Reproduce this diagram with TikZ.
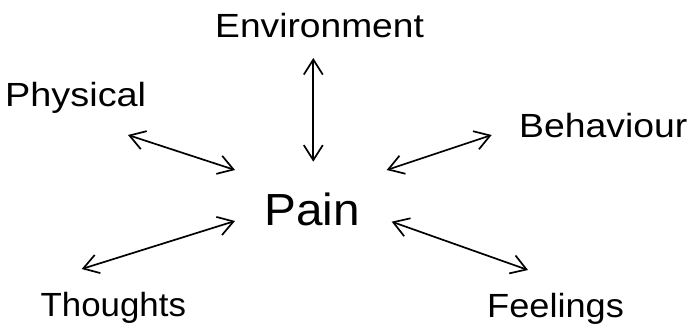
\documentclass[tikz,border=0pt]{standalone}
\usepackage{fontspec}
\setmainfont{Liberation Sans}
\usetikzlibrary{arrows.meta}
\begin{document}
\begin{tikzpicture}[x=1pt,y=1pt,
  lbl/.style={inner sep=0pt, anchor=base west, font=\fontsize{33.5}{40}\selectfont},
  big/.style={inner sep=0pt, anchor=base west, font=\fontsize{45}{54}\selectfont},
  tipb/.tip={Straight Barb[length=15pt,width=19pt]},
  link/.style={line width=1.7pt, tipb-tipb}]
\useasboundingbox (0,0) rectangle (691,325);
\node[lbl] (env) at (215,288) {\scalebox{1.11}[1]{Environment}};
\node[lbl] (phys) at (5,218.3) {\scalebox{1.13}[1]{Physical}};
\node[big] (pain) at (264.3,100) {\scalebox{1.06}[1]{Pain}};
\node[lbl] (beh) at (519,188) {\scalebox{1.115}[1]{Behaviour}};
\node[lbl] (thou) at (40.5,8.3) {\scalebox{1.04}[1]{Thoughts}};
\node[lbl] (feel) at (487,8) {\scalebox{1.08}[1]{Feelings}};
\coordinate (p1) at (128,190);   \coordinate (p2) at (235,155);
\coordinate (e1) at (313.3,267); \coordinate (e2) at (313.3,163.3);
\coordinate (b1) at (386.7,155); \coordinate (b2) at (491.7,190);
\coordinate (t1) at (81.7,56);   \coordinate (t2) at (235,104);
\coordinate (f1) at (391.7,103.3); \coordinate (f2) at (528,55);
\draw[link] (p1) -- (p2);
\draw[link] (e1) -- (e2);
\draw[link] (b1) -- (b2);
\draw[link] (t1) -- (t2);
\draw[link] (f1) -- (f2);
\end{tikzpicture}
\end{document}
